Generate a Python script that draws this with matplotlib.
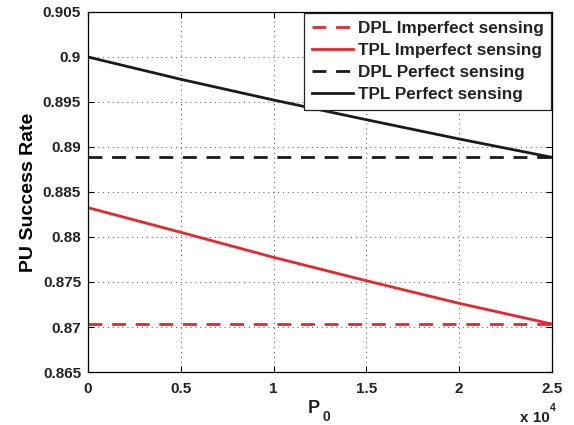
import matplotlib.pyplot as plt
import numpy as np

# values
p0 = [0, 5000, 10000, 15000, 20000, 25000]
tpl_imperfect = [0.88326, 0.88052, 0.87774, 0.87514, 0.87263, 0.87033]
dpl_imperfect = [0.87033] * len(p0)
tpl_perfect = [0.90000, 0.89752, 0.89522, 0.89303, 0.89089, 0.88885]
dpl_perfect = [0.88890] * len(p0)

x_ticks = [0, 5000, 10000, 15000, 20000, 25000]
x_tick_labels = ["0", "0.5", "1", "1.5", "2", "2.5"]
y_ticks = [0.865, 0.87, 0.875, 0.88, 0.885, 0.89, 0.895, 0.9, 0.905]
y_tick_labels = ["0.865", "0.87", "0.875", "0.88", "0.885", "0.89", "0.895", "0.9", "0.905"]


def main():
    plt.rcParams['font.family'] = ['Liberation Sans', 'DejaVu Sans']
    plt.rcParams['font.weight'] = 'bold'
    plt.rcParams['text.color'] = '#222222'
    plt.rcParams['xtick.labelcolor'] = '#222222'
    plt.rcParams['ytick.labelcolor'] = '#222222'

    fig = plt.figure(figsize=(5.74, 4.25), dpi=100)
    ax = fig.add_axes([0.1533, 0.1247, 0.8084, 0.8471])

    red = '#e8262b'
    ax.plot(p0, dpl_imperfect, '--', color=red, lw=2, dashes=(5, 3.5),
            label='DPL Imperfect sensing')
    ax.plot(p0, tpl_imperfect, '-', color=red, lw=2,
            label='TPL Imperfect sensing')
    ax.plot(p0, dpl_perfect, '--', color='#1a1a1a', lw=2, dashes=(5, 3.5),
            label='DPL Perfect sensing')
    ax.plot(p0, tpl_perfect, '-', color='#1a1a1a', lw=2,
            label='TPL Perfect sensing')

    ax.set_xlim(0, 25000)
    ax.set_ylim(0.865, 0.905)
    ax.set_xticks(x_ticks)
    ax.set_xticklabels(x_tick_labels)
    ax.set_yticks(y_ticks)
    ax.set_yticklabels(y_tick_labels)
    ax.tick_params(labelsize=11, direction='in', length=4, width=0.8, pad=5,
                   top=True, right=True)
    ax.tick_params(axis='x', pad=7)
    ax.grid(True, linestyle=(0, (1, 4)), color='#555555', lw=0.7)
    for s in ax.spines.values():
        s.set_linewidth(0.9)

    # x label "P" with a low subscript, the way the original draws it
    ax.text(0.487, -0.079, "P", transform=ax.transAxes, ha='center',
            va='top', fontsize=13, fontweight='bold')
    ax.text(0.505, -0.106, "0", transform=ax.transAxes, ha='left',
            va='top', fontsize=10, fontweight='bold')
    ax.set_ylabel("PU Success Rate", fontsize=14, fontweight='bold', labelpad=4)
    ax.text(0.995, -0.108, "x 10", transform=ax.transAxes,
            ha='right', va='top', fontsize=11, fontweight='bold')
    ax.text(0.996, -0.086, "4", transform=ax.transAxes,
            ha='left', va='top', fontsize=7.5, fontweight='bold')

    leg = ax.legend(loc='upper right', fontsize=12.3, handlelength=2.4,
                    handletextpad=0.3, borderpad=0.45, labelspacing=0.42,
                    fancybox=False, framealpha=1, borderaxespad=0.05)
    leg.get_frame().set_edgecolor('#222222')
    leg.get_frame().set_linewidth(0.9)
    for t in leg.get_texts():
        t.set_fontweight('bold')

    fig.savefig("out.png", dpi=100)


if __name__ == '__main__':
    main()
